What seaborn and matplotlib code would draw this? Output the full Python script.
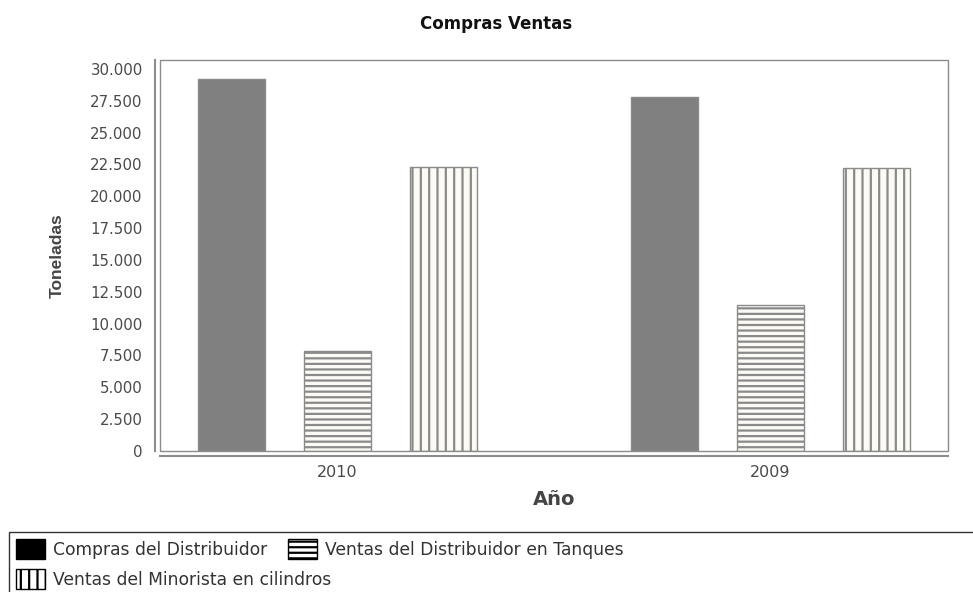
import matplotlib
matplotlib.use("Agg")
import matplotlib.pyplot as plt
import matplotlib.ticker as mticker
from matplotlib.patches import Patch, Rectangle
import numpy as np
import pandas as pd
import seaborn as sns

# values
YEARS = ["2010", "2009"]
SERIES = [
    "Compras del Distribuidor",
    "Ventas del Distribuidor en Tanques",
    "Ventas del Minorista en cilindros",
]
COMPRAS = [29200, 27800]
TANQUES = [7850, 11450]
MINORISTA = [22300, 22230]
Y_TICKS = np.arange(0, 30001, 2500)

SERIES_STYLE = {
    "Compras del Distribuidor": {"face": "#808080", "hatch": None},
    "Ventas del Distribuidor en Tanques": {"face": "#fbfaf4", "hatch": "---"},
    "Ventas del Minorista en cilindros": {"face": "#fbfaf4", "hatch": "||"},
}

rows = []
for name, vals in zip(SERIES, [COMPRAS, TANQUES, MINORISTA]):
    for year, v in zip(YEARS, vals):
        rows.append({"Año": year, "Serie": name, "Toneladas": v})
df = pd.DataFrame(rows)

sns.set_style("white")
plt.rcParams["font.family"] = ["DejaVu Sans"]
plt.rcParams["hatch.linewidth"] = 1.6

fig = plt.figure(figsize=(9.73, 5.92), dpi=100)
ax = fig.add_axes([160 / 973, 1 - 451 / 592, 788 / 973, 391 / 592])

sns.barplot(
    data=df, x="Año", y="Toneladas", hue="Serie", order=YEARS, hue_order=SERIES,
    palette=["#808080"] * 3, width=0.735, gap=0.37, legend=False, ax=ax,
)
for name, container in zip(SERIES, ax.containers):
    style = SERIES_STYLE[name]
    for bar in container:
        bar.set_facecolor(style["face"])
        bar.set_edgecolor("#8a8a8a")
        bar.set_linewidth(1.0)
        if style["hatch"]:
            bar.set_hatch(style["hatch"])

ax.set_xlim(-0.41, 1.41)
ax.set_ylim(0, 30700)
ax.set_yticks(Y_TICKS)
ax.yaxis.set_major_formatter(mticker.FuncFormatter(lambda v, _: f"{int(v):,}".replace(",", ".")))

# box around the data area, axis lines drawn a bit outward
ax.add_patch(Rectangle((0, 0), 1, 1, transform=ax.transAxes, fill=False,
                       edgecolor="#8c8c8c", linewidth=1.0, clip_on=False, zorder=5))
for side in ["top", "right"]:
    ax.spines[side].set_visible(False)
for side in ["left", "bottom"]:
    ax.spines[side].set_position(("outward", 3.5))
    ax.spines[side].set_color("#8c8c8c")
    ax.spines[side].set_linewidth(1.5)

ax.tick_params(axis="y", length=3, width=1, color="#8c8c8c", labelsize=10.8, labelcolor="#4a4a4a", pad=6)
ax.tick_params(axis="x", length=2.5, width=1, color="#8c8c8c", labelsize=11.5, labelcolor="#4a4a4a", pad=4)
ax.set_xlabel("Año", fontsize=14, fontweight="bold", color="#444444", labelpad=7)
ax.set_ylabel("Toneladas", fontsize=12.5, fontweight="bold", family="Liberation Sans",
              color="#444444", labelpad=18)

fig.text(496 / 973, 1 - 24 / 592, "Compras Ventas", ha="center", va="center",
         fontsize=12, fontweight="bold", color="#111111")

legend_handles = [
    Patch(facecolor="black", edgecolor="black"),
    Patch(facecolor="white", edgecolor="black", hatch="---"),
    Patch(facecolor="white", edgecolor="black", hatch="||"),
]
common = dict(frameon=False, borderpad=0, handletextpad=0.5, columnspacing=1.2,
              fontsize=12.3, handlelength=1.7, handleheight=1.5, labelcolor="#333333")
fig.legend(legend_handles[:2], SERIES[:2], loc="upper left", ncol=2,
           bbox_to_anchor=(7 / 973, 1 - 530 / 592), **common)
fig.legend(legend_handles[2:], SERIES[2:], loc="upper left",
           bbox_to_anchor=(7 / 973, 1 - 560 / 592), **common)
fig.add_artist(Rectangle((9 / 973, -0.05), 1.0, (592 - 532) / 592 + 0.05,
                         transform=fig.transFigure, fill=False, edgecolor="#333333",
                         linewidth=1.0))

fig.savefig("out.png", dpi=100)
